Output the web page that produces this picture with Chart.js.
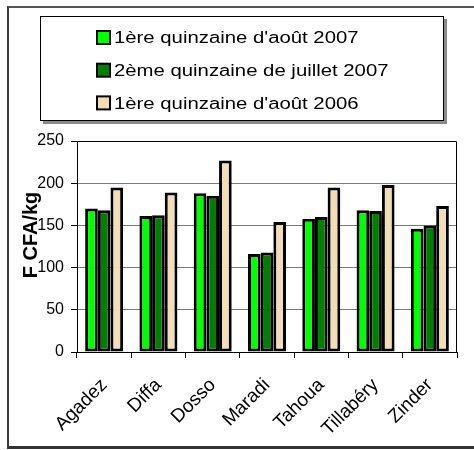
<!DOCTYPE html>
<html>
<head>
<meta charset="utf-8">
<script src="https://cdn.jsdelivr.net/npm/chart.js@4"></script>
<style>
  body { margin: 0; background: #fff; }
  #cadre {
    position: absolute; left: 7px; top: 6px; width: 480px; height: 438px;
    border-left: 2px solid #3a3a3a; border-top: 2px solid #555; border-bottom: 3px solid #333;
  }
  #zone { position: absolute; left: 0; top: 0; width: 474px; height: 450px; }
</style>
</head>
<body>
<div id="cadre"></div>
<div id="zone"><canvas id="graphique" width="474" height="450"></canvas></div>
<script>
const regions = ["Agadez", "Diffa", "Dosso", "Maradi", "Tahoua", "Tillabéry", "Zinder"];
const aout2007 = [170, 161, 188, 116, 158, 168, 146];
const juillet2007 = [168, 162, 185, 118, 160, 167, 150];
const aout2006 = [195, 189, 227, 154, 195, 198, 173];
const ticksY = [0, 50, 100, 150, 200, 250];
const titreY = "F CFA/kg";

const police = "'Liberation Sans', Arial, sans-serif";

// legende dessinee dans un cadre, un element par ligne
const legendeCadre = {
  id: "legendeCadre",
  afterDraw(chart) {
    const ctx = chart.ctx;
    ctx.save();
    ctx.fillStyle = "#8a8a8a";
    ctx.fillRect(43, 19, 404, 105);
    ctx.fillStyle = "#fff";
    ctx.fillRect(40, 16, 404, 105);
    ctx.strokeStyle = "#000";
    ctx.lineWidth = 1;
    ctx.strokeRect(40.5, 16.5, 403, 104);

    chart.data.datasets.forEach((ds, i) => {
      const y = 38 + i * 32.7;
      ctx.fillStyle = ds.backgroundColor;
      ctx.fillRect(97, y - 7, 13, 13);
      ctx.strokeStyle = "#000";
      ctx.lineWidth = 2;
      ctx.strokeRect(97, y - 7, 13, 13);

      ctx.save();
      ctx.translate(114, y);
      ctx.scale(1.27, 1);
      ctx.fillStyle = "#000";
      ctx.font = "16px " + police;
      ctx.textBaseline = "middle";
      ctx.fillText(ds.label, 0, 1);
      ctx.restore();
    });

    // titre de l'axe Y
    ctx.save();
    ctx.translate(31, 235);
    ctx.rotate(-Math.PI / 2);
    ctx.fillStyle = "#000";
    ctx.font = "bold 20px " + police;
    ctx.textAlign = "center";
    ctx.textBaseline = "middle";
    ctx.fillText(titreY, 0, 0);
    ctx.restore();

    ctx.restore();
  }
};

const bordurePlot = {
  id: "bordurePlot",
  afterDatasetsDraw(chart) {
    const a = chart.chartArea;
    const ctx = chart.ctx;
    ctx.save();
    ctx.strokeStyle = "#000";
    ctx.lineWidth = 1;
    ctx.beginPath();
    ctx.moveTo(a.left, a.top + 0.5);
    ctx.lineTo(a.right - 0.5, a.top + 0.5);
    ctx.lineTo(a.right - 0.5, a.bottom);
    ctx.stroke();
    ctx.restore();
  }
};

new Chart(document.getElementById("graphique"), {
  type: "bar",
  data: {
    labels: regions,
    datasets: [
      { label: "1ère quinzaine d'août 2007", data: aout2007, backgroundColor: "#00ff00" },
      { label: "2ème quinzaine de juillet 2007", data: juillet2007, backgroundColor: "#008000" },
      { label: "1ère quinzaine d'août 2006", data: aout2006, backgroundColor: "#f2ddb6" }
    ].map(d => ({ ...d, borderColor: "#000", borderWidth: 3, borderSkipped: false,
                  categoryPercentage: 0.7, barPercentage: 1 }))
  },
  options: {
    responsive: false,
    animation: false,
    layout: { padding: { top: 141, right: 17, left: 0, bottom: 0 } },
    plugins: { legend: { display: false }, tooltip: { enabled: false } },
    scales: {
      x: {
        grid: { offset: true, drawOnChartArea: false, color: "#000", tickLength: 6 },
        border: { color: "#000", width: 1 },
        ticks: {
          color: "#000", maxRotation: 45, minRotation: 45, padding: 16,
          font: { family: police, size: 19 }
        },
        afterFit: s => { s.height = 98; }
      },
      y: {
        min: 0, max: 250,
        afterBuildTicks: s => { s.ticks = ticksY.map(v => ({ value: v })); },
        grid: {
          color: c => (c.tick && (c.tick.value === 0 || c.tick.value === 250)) ? "rgba(0,0,0,0)" : "#7a7a7a",
          tickColor: "#000", tickLength: 6
        },
        border: { color: "#000", width: 1 },
        ticks: {
          color: "#000", padding: 7,
          font: { family: police, size: 16 }
        },
        afterFit: s => { s.width = 77; }
      }
    }
  },
  plugins: [legendeCadre, bordurePlot]
});
</script>
</body>
</html>
